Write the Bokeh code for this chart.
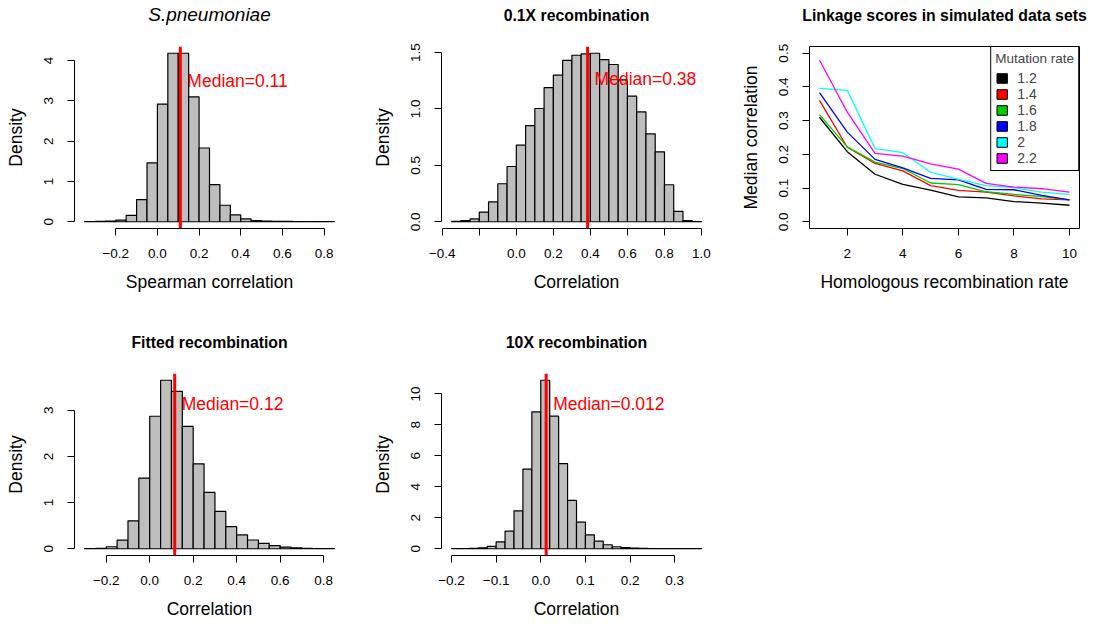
import numpy as np
from bokeh.plotting import figure
from bokeh.layouts import column, row
from bokeh.models import Span, Label, Legend, LegendItem, FixedTicker, Range1d, LinearAxis
from bokeh.embed import file_html
from bokeh.resources import INLINE

FONT = "Liberation Sans"

# ---------------- data ----------------
spn_bin_start = -0.35
spn_bin_width = 0.05
spn_density = [0.003, 0.008, 0.015, 0.04, 0.16, 0.55, 1.46, 2.92, 4.18, 4.18,
               3.10, 1.83, 0.92, 0.41, 0.17, 0.07, 0.03, 0.015, 0.01, 0.008,
               0.005, 0.003, 0.002, 0.001]
spn_median = 0.11
spn_median_text = "Median=0.11"

low_bin_start = -0.35
low_bin_width = 0.05
low_density = [0.003, 0.01, 0.025, 0.086, 0.177, 0.337, 0.49, 0.68, 0.853, 1.004,
               1.19, 1.30, 1.43, 1.476, 1.488, 1.494, 1.438, 1.394, 1.258, 1.113,
               0.974, 0.78, 0.62, 0.328, 0.092, 0.01, 0.002]
low_median = 0.385
low_median_text = "Median=0.38"

fit_bin_start = -0.30
fit_bin_width = 0.05
fit_density = [0.005, 0.01, 0.043, 0.187, 0.606, 1.53, 2.87, 3.65, 3.41, 2.65,
               1.84, 1.22, 0.81, 0.48, 0.30, 0.19, 0.115, 0.07, 0.036, 0.02,
               0.01, 0.005, 0.003]
fit_median = 0.115
fit_median_text = "Median=0.12"

high_bin_start = -0.20
high_bin_width = 0.02
high_density = [0.01, 0.01, 0.02, 0.06, 0.15, 0.45, 1.14, 2.45, 5.14, 8.84,
                10.88, 8.56, 5.5, 3.12, 1.72, 0.9, 0.49, 0.26, 0.13, 0.07,
                0.04, 0.02, 0.01, 0.01, 0.005, 0.005, 0.003, 0.01]
high_median = 0.012
high_median_text = "Median=0.012"

recomb_rate = [1, 2, 3, 4, 5, 6, 7, 8, 9, 10]
mutation_rates = ["1.2", "1.4", "1.6", "1.8", "2", "2.2"]
mutation_colors = ["#000000", "#FF0000", "#00CD00", "#0000FF", "#00FFFF", "#FF00FF"]
median_corr_12 = [0.310, 0.208, 0.141, 0.111, 0.094, 0.074, 0.071, 0.060, 0.055, 0.049]
median_corr_14 = [0.360, 0.221, 0.173, 0.151, 0.107, 0.093, 0.088, 0.077, 0.068, 0.065]
median_corr_16 = [0.318, 0.222, 0.177, 0.158, 0.115, 0.110, 0.089, 0.081, 0.075, 0.065]
median_corr_18 = [0.383, 0.266, 0.185, 0.160, 0.129, 0.124, 0.096, 0.095, 0.078, 0.065]
median_corr_20 = [0.396, 0.390, 0.217, 0.205, 0.147, 0.126, 0.107, 0.101, 0.088, 0.081]
median_corr_22 = [0.480, 0.325, 0.203, 0.195, 0.172, 0.156, 0.114, 0.103, 0.098, 0.088]

spn_xticks = [-0.2, 0.0, 0.2, 0.4, 0.6, 0.8]
spn_xlabels = ["\u22120.2", "0.0", "0.2", "0.4", "0.6", "0.8"]
spn_yticks = [0, 1, 2, 3, 4]
spn_ylabels = ["0", "1", "2", "3", "4"]
low_xticks = [-0.4, -0.2, 0.0, 0.2, 0.4, 0.6, 0.8, 1.0]
low_xlabels = ["\u22120.4", "", "0.0", "0.2", "0.4", "0.6", "0.8", "1.0"]
low_yticks = [0.0, 0.5, 1.0, 1.5]
low_ylabels = ["0.0", "0.5", "1.0", "1.5"]
fit_xticks = [-0.2, 0.0, 0.2, 0.4, 0.6, 0.8]
fit_xlabels = ["\u22120.2", "0.0", "0.2", "0.4", "0.6", "0.8"]
fit_yticks = [0, 1, 2, 3]
fit_ylabels = ["0", "1", "2", "3"]
high_xticks = [-0.2, -0.1, 0.0, 0.1, 0.2, 0.3]
high_xlabels = ["\u22120.2", "\u22120.1", "0.0", "0.1", "0.2", "0.3"]
high_yticks = [0, 2, 4, 6, 8, 10]
high_ylabels = ["0", "2", "4", "6", "8", "10"]
lk_xticks = [2, 4, 6, 8, 10]
lk_xlabels = ["2", "4", "6", "8", "10"]
lk_yticks = [0.0, 0.1, 0.2, 0.3, 0.4, 0.5]
lk_ylabels = ["0.0", "0.1", "0.2", "0.3", "0.4", "0.5"]

TICK_SIZE = "13.5px"
LABEL_SIZE = "17.5px"
TITLE_SIZE = "15.8px"


def base_axis_style(ax):
    ax.axis_line_color = "black"
    ax.axis_line_width = 1
    ax.major_tick_line_color = "black"
    ax.major_tick_line_width = 1
    ax.major_tick_out = 7
    ax.major_tick_in = 0
    ax.minor_tick_line_color = None
    ax.major_label_text_font = FONT
    ax.major_label_text_font_size = TICK_SIZE
    ax.major_label_text_color = "black"
    ax.major_label_standoff = 14
    ax.axis_label_text_font = FONT
    ax.axis_label_text_font_size = LABEL_SIZE
    ax.axis_label_text_font_style = "normal"
    ax.axis_label_text_color = "black"


def style_axes(p, xticks, xlabels, yticks, ylabels, xlabel, ylabel):
    p.xaxis.ticker = FixedTicker(ticks=xticks)
    p.yaxis.ticker = FixedTicker(ticks=yticks)
    p.xaxis.major_label_overrides = {float(t): l for t, l in zip(xticks, xlabels)}
    p.yaxis.major_label_overrides = {float(t): l for t, l in zip(yticks, ylabels)}
    p.xaxis.bounds = (xticks[0], xticks[-1])
    p.yaxis.bounds = (yticks[0], yticks[-1])
    p.yaxis.major_label_orientation = "vertical"
    base_axis_style(p.xaxis[0])
    base_axis_style(p.yaxis[0])
    p.xaxis.major_label_standoff = 13
    p.xaxis.axis_label_standoff = 11
    p.yaxis.axis_label_standoff = 16
    p.xaxis.axis_label = xlabel
    p.yaxis.axis_label = ylabel
    p.xgrid.grid_line_color = None
    p.ygrid.grid_line_color = None


def add_title(p, text, italic, standoff):
    # the panel title, drawn as the label of a bare axis above the frame
    t = LinearAxis(ticker=FixedTicker(ticks=[]), axis_label=text)
    t.axis_line_color = None
    t.major_tick_line_color = None
    t.minor_tick_line_color = None
    t.major_tick_out = 0
    t.major_label_standoff = 0
    t.axis_label_standoff = standoff
    t.axis_label_text_font = FONT
    t.axis_label_text_font_size = "19px" if italic else TITLE_SIZE
    t.axis_label_text_font_style = "italic" if italic else "bold"
    t.axis_label_text_color = "black"
    p.add_layout(t, "above")


def hist_panel(title, italic, xlabel, bin_start, bin_width, density, median, median_text,
               label_y, xticks, xlabels, yticks, ylabels, width, height, mb):
    edges = bin_start + bin_width * np.arange(len(density) + 1)
    x0, x1 = edges[0], edges[-1]
    ext = 0.04 * (x1 - x0)
    ymax = max(density)
    p = figure(width=width, height=height, output_backend="svg", toolbar_location=None,
               x_range=Range1d(x0 - ext, x1 + ext),
               y_range=Range1d(-0.04 * ymax, 1.04 * ymax),
               min_border_left=mb[0], min_border_right=mb[1],
               min_border_top=mb[2], min_border_bottom=mb[3])
    p.outline_line_color = None
    p.background_fill_color = "white"
    p.border_fill_color = "white"
    p.quad(left=edges[:-1], right=edges[1:], bottom=0, top=density,
           fill_color="#BEBEBE", line_color="black", line_width=1.2)
    p.add_layout(Span(location=median, dimension="height", line_color="#FF0000", line_width=3))
    p.add_layout(Label(x=median, y=label_y, x_offset=7, text=median_text,
                       text_color="#FF0000", text_font=FONT, text_font_size="17.5px",
                       text_align="left", text_baseline="middle"))
    style_axes(p, xticks, xlabels, yticks, ylabels, xlabel, "Density")
    add_title(p, title, italic, mb[4])
    return p


p1 = hist_panel("S.pneumoniae", True, "Spearman correlation", spn_bin_start, spn_bin_width,
                spn_density, spn_median, spn_median_text, 3.5,
                spn_xticks, spn_xlabels, spn_yticks, spn_ylabels, 364, 312, (74, 20, 46, 84, 22))
p2 = hist_panel("0.1X recombination", False, "Correlation", low_bin_start, low_bin_width,
                low_density, low_median, low_median_text, 1.27,
                low_xticks, low_xlabels, low_yticks, low_ylabels, 365, 312, (77, 18, 46, 84, 23))
p4 = hist_panel("Fitted recombination", False, "Correlation", fit_bin_start, fit_bin_width,
                fit_density, fit_median, fit_median_text, 3.13,
                fit_xticks, fit_xlabels, fit_yticks, fit_ylabels, 364, 312, (74, 20, 61, 69, 23))
p5 = hist_panel("10X recombination", False, "Correlation", high_bin_start, high_bin_width,
                high_density, high_median, high_median_text, 9.33,
                high_xticks, high_xlabels, high_yticks, high_ylabels, 365, 312, (77, 18, 61, 69, 23))

p3 = figure(width=364, height=312, output_backend="svg", toolbar_location=None,
            x_range=Range1d(1 - 0.36, 10 + 0.36), y_range=Range1d(-0.02, 0.52),
            min_border_left=80, min_border_right=14, min_border_top=46, min_border_bottom=84)
p3.outline_line_color = "black"
p3.outline_line_width = 1
p3.background_fill_color = "white"
p3.border_fill_color = "white"
series = [median_corr_12, median_corr_14, median_corr_16, median_corr_18, median_corr_20, median_corr_22]
items = []
nan_pos = np.array([np.nan])
for lab, col, ys in zip(mutation_rates, mutation_colors, series):
    p3.line(recomb_rate, ys, line_color=col, line_width=1.3)
    r = p3.quad(left=nan_pos, right=nan_pos, top=nan_pos, bottom=nan_pos,
                fill_color=col, line_color="black", line_width=1)
    items.append(LegendItem(label=lab, renderers=[r]))
style_axes(p3, lk_xticks, lk_xlabels, lk_yticks, lk_ylabels,
           "Homologous recombination rate", "Median correlation")
add_title(p3, "Linkage scores in simulated data sets", False, 23)

leg = Legend(items=items, title="Mutation rate", location="top_right", margin=0, padding=4,
             glyph_width=13, glyph_height=12, label_height=12, spacing=0, label_standoff=9,
             border_line_color="black", border_line_width=1, border_line_alpha=1.0,
             background_fill_color="white", background_fill_alpha=1.0,
             label_text_font=FONT, label_text_font_size="14px",
             title_text_font=FONT, title_text_font_size="13.5px", title_text_font_style="normal",
             title_standoff=4)
p3.add_layout(leg)

layout = column(row(p1, p2, p3), row(p4, p5))
open("out.html", "w").write(file_html(layout, INLINE))
